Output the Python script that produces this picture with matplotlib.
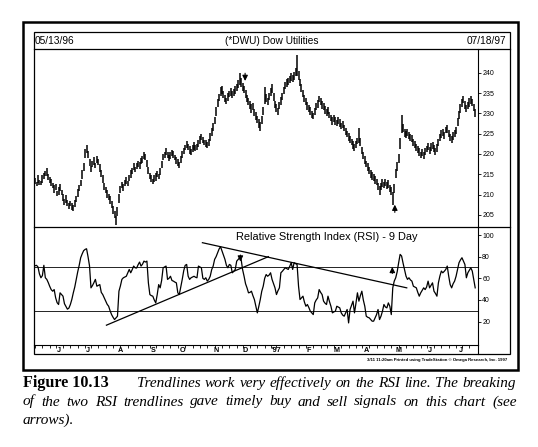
import matplotlib

matplotlib.use("Agg")
import matplotlib.pyplot as plt
import numpy as np
import pandas as pd
from matplotlib.lines import Line2D
from matplotlib.patches import Rectangle

plt.rcParams["font.family"] = ["Liberation Sans", "DejaVu Sans"]

# ---- data (daily bars, 05/13/96 .. 07/18/97) ----
holidays = ["1996-05-27", "1996-07-04", "1996-09-02", "1996-11-28", "1996-12-25",
            "1997-01-01", "1997-02-17", "1997-03-28", "1997-05-26", "1997-07-04"]

# bar midpoints (DWU price)
bar_mid = [
    213.4, 212.6, 213.8, 213.0, 212.8, 213.9, 214.6, 215.2, 215.6, 214.3,
    213.6, 213.0, 212.2, 211.4, 211.9, 210.2, 210.9, 211.7, 210.4, 209.3,
    208.2, 208.9, 207.9, 207.2, 207.8, 207.0, 206.6, 207.9, 209.0, 210.4,
    211.6, 212.9, 215.0, 216.8, 220.2, 221.3, 219.8, 217.9, 216.4, 217.5,
    218.3, 217.2, 218.6, 218.1, 216.6, 215.2, 213.8, 211.9, 211.2, 210.1,
    209.4, 208.6, 207.5, 206.2, 205.0, 203.6, 205.8, 209.0, 211.2, 212.4,
    211.8, 212.9, 213.4, 212.8, 214.1, 215.0, 215.8, 216.9, 216.2, 217.0,
    217.6, 217.1, 218.2, 218.7, 219.6, 219.2, 217.6, 215.9, 214.6, 214.0,
    213.2, 213.9, 214.4, 215.0, 214.5, 215.6, 217.4, 219.2, 219.8, 220.6,
    219.7, 219.0, 219.6, 220.3, 219.8, 219.1, 218.4, 217.9, 217.3, 218.6,
    219.9, 220.8, 221.6, 222.4, 221.7, 221.0, 220.5, 221.3, 222.0, 221.4,
    221.8, 222.6, 223.4, 224.1, 223.5, 222.9, 222.6, 222.1, 222.9, 224.2,
    225.4, 226.6, 228.2, 230.4, 232.6, 233.9, 235.4, 235.8, 234.6, 233.7,
    233.1, 234.0, 234.8, 235.3, 234.6, 235.1, 235.8, 236.4, 237.3, 238.4,
    237.6, 236.5, 235.9, 234.8, 233.6, 232.9, 232.1, 231.2, 231.6, 230.3,
    229.4, 228.6, 227.5, 226.8, 228.4, 230.6, 234.5, 233.8, 232.9, 234.2,
    235.3, 236.1, 234.0, 232.2, 231.4, 230.4, 231.9, 233.0, 234.1, 235.6,
    236.9, 237.5, 237.9, 238.4, 238.9, 238.6, 239.3, 240.2, 241.8, 239.4,
    237.6, 236.2, 234.8, 233.6, 232.9, 231.8, 231.2, 230.6, 229.8, 229.4,
    230.5, 231.6, 232.4, 233.5, 232.9, 232.0, 231.6, 230.9, 230.2, 230.7,
    229.6, 228.9, 228.2, 228.8, 228.1, 227.6, 228.2, 227.6, 226.9, 227.2,
    226.4, 225.6, 224.9, 224.2, 223.5, 223.0, 222.2, 221.6, 222.3, 223.2,
    224.6, 223.0, 220.8, 219.6, 218.6, 217.5, 216.8, 216.0, 215.0, 214.6,
    214.1, 213.6, 213.1, 212.0, 211.0, 211.9, 212.8, 212.4, 213.0, 212.3,
    212.6, 211.6, 210.8, 209.0, 211.5, 215.2, 216.9, 218.9, 222.6, 227.4,
    226.3, 225.2, 224.8, 225.3, 224.6, 224.1, 223.8, 222.9, 222.4, 221.6,
    221.0, 220.4, 219.8, 220.3, 219.7, 220.6, 221.2, 221.8, 220.9, 221.8,
    222.1, 221.3, 220.6, 221.5, 222.8, 224.0, 224.9, 225.2, 224.6, 225.9,
    226.2, 225.0, 224.1, 223.6, 224.5, 225.1, 225.8, 227.8, 229.6, 231.2,
    232.6, 233.4, 232.1, 231.2, 232.0, 232.7, 233.3, 232.6, 231.4, 230.1,
]

# bar high-low span
bar_span = [
    1.6, 1.2, 1.8, 1.4, 1.1, 1.9, 1.5, 1.3, 2.0, 1.6,
    1.4, 1.7, 1.2, 1.9, 1.5, 1.3, 1.8, 1.6, 1.2, 1.7,
    1.5, 1.9, 1.3, 1.6, 1.2, 1.8, 1.4, 1.7, 1.5, 1.9,
    1.6, 1.4, 2.1, 1.8, 2.2, 2.0, 1.7, 1.9, 1.5, 1.6,
    1.8, 1.3, 1.7, 1.5, 1.9, 1.6, 2.0, 1.7, 1.4, 1.8,
    1.5, 1.9, 1.6, 2.0, 1.8, 2.4, 2.2, 2.1, 1.7, 1.5,
    1.7, 1.4, 1.8, 1.3, 1.6, 1.9, 1.5, 1.7, 1.4, 1.6,
    1.5, 1.8, 1.4, 1.7, 1.9, 1.5, 1.8, 1.6, 1.3, 1.7,
    1.4, 1.6, 1.9, 1.5, 1.2, 1.7, 1.8, 1.6, 1.4, 1.9,
    1.6, 1.3, 1.7, 1.5, 1.8, 1.4, 1.6, 1.9, 1.5, 1.7,
    1.8, 1.5, 1.3, 1.7, 1.6, 1.9, 1.4, 1.6, 1.8, 1.5,
    1.4, 1.7, 1.9, 1.5, 1.6, 1.3, 1.8, 1.5, 1.7, 2.0,
    1.9, 2.1, 1.8, 2.3, 2.0, 1.9, 2.2, 2.0, 1.8, 1.7,
    1.6, 1.9, 1.5, 1.8, 1.7, 1.6, 1.9, 1.7, 2.0, 3.0,
    2.2, 1.9, 1.7, 2.0, 1.8, 1.6, 1.9, 2.3, 1.7, 1.8,
    1.9, 1.7, 2.1, 2.4, 2.0, 2.2, 4.2, 2.0, 1.8, 1.9,
    1.8, 2.2, 1.9, 1.7, 2.0, 1.8, 1.6, 1.9, 1.7, 1.8,
    1.7, 1.9, 1.6, 1.8, 2.0, 1.7, 1.9, 2.1, 5.0, 2.2,
    1.9, 2.0, 1.7, 1.8, 1.6, 2.0, 1.7, 1.9, 1.8, 1.6,
    1.8, 1.7, 1.9, 1.6, 1.8, 2.0, 1.7, 1.9, 1.6, 1.8,
    1.7, 1.5, 1.9, 1.6, 1.8, 1.4, 1.7, 1.9, 1.6, 1.8,
    1.6, 1.8, 1.5, 1.9, 1.7, 1.6, 1.8, 1.5, 1.7, 1.6,
    3.6, 2.0, 1.8, 1.7, 1.9, 1.6, 1.8, 1.7, 1.9, 1.8,
    1.7, 1.9, 1.6, 1.8, 2.2, 1.7, 1.9, 1.6, 1.8, 1.7,
    1.8, 1.7, 2.0, 3.2, 2.4, 2.2, 2.0, 2.1, 2.6, 4.4,
    2.0, 1.8, 1.9, 1.7, 1.8, 1.6, 1.9, 1.7, 1.8, 1.6,
    1.7, 1.9, 1.6, 1.8, 1.7, 1.9, 1.6, 1.8, 1.7, 1.9,
    1.6, 1.8, 1.7, 1.9, 1.8, 1.6, 1.9, 1.7, 1.8, 1.7,
    1.9, 1.7, 1.8, 1.6, 1.9, 1.7, 1.8, 2.0, 1.9, 2.1,
    2.0, 1.8, 1.9, 1.7, 1.8, 2.0, 1.9, 1.7, 1.8, 1.9,
]

# 9-day RSI
rsi = [
    71.6, 72.0, 70.5, 64.0, 60.5, 62.5, 72.0, 60.5, 59.0, 56.0,
    52.5, 49.5, 48.1, 49.6, 42.0, 37.5, 35.8, 46.6, 45.0, 43.5,
    36.5, 34.0, 31.5, 32.5, 35.8, 40.5, 46.6, 52.0, 59.0, 66.0,
    72.0, 79.0, 82.5, 85.5, 86.7, 87.3, 80.0, 71.6, 51.2, 53.3,
    56.0, 59.0, 52.7, 53.5, 54.2, 47.0, 45.0, 41.9, 39.0, 36.0,
    34.2, 30.0, 26.5, 24.0, 21.9, 23.5, 25.0, 48.1, 53.0, 59.0,
    60.5, 61.2, 61.9, 65.0, 68.2, 65.1, 68.0, 71.3, 69.7, 69.5,
    72.5, 75.0, 71.3, 73.0, 75.9, 75.0, 75.9, 55.8, 45.0, 44.0,
    43.5, 40.0, 37.3, 45.0, 54.2, 51.2, 58.0, 69.7, 70.5, 71.3,
    59.0, 60.0, 61.9, 58.0, 57.4, 56.5, 55.8, 46.6, 45.0, 52.0,
    59.0, 67.0, 72.0, 72.8, 62.0, 59.0, 60.5, 61.2, 61.9, 61.0,
    60.5, 71.3, 70.5, 69.7, 60.0, 59.0, 60.5, 57.4, 59.0, 61.9,
    68.0, 71.3, 77.5, 80.0, 83.6, 87.0, 89.2, 85.2, 81.0, 77.5,
    72.0, 69.7, 72.8, 72.0, 65.1, 66.5, 68.2, 75.9, 77.5, 79.0,
    77.5, 68.0, 61.9, 55.0, 51.2, 46.6, 47.0, 48.1, 44.0, 40.4,
    34.2, 28.1, 34.0, 40.4, 48.0, 52.7, 60.0, 63.5, 61.9, 63.0,
    65.1, 59.0, 55.0, 51.2, 45.0, 48.5, 51.2, 65.1, 66.5, 68.2,
    69.7, 69.0, 68.2, 71.0, 74.4, 68.2, 74.4, 73.5, 72.8, 52.7,
    40.4, 42.0, 43.5, 38.0, 34.2, 35.8, 33.0, 29.6, 28.0, 26.5,
    37.3, 40.0, 41.9, 49.6, 47.0, 45.0, 38.9, 37.0, 35.8, 43.5,
    38.5, 34.2, 28.1, 29.0, 29.6, 34.2, 33.5, 32.7, 28.1, 26.0,
    25.0, 28.0, 31.2, 18.8, 31.2, 35.0, 38.9, 28.1, 37.0, 46.6,
    38.9, 44.0, 48.1, 40.0, 34.2, 25.0, 24.0, 23.5, 22.0, 20.4,
    20.4, 23.5, 26.5, 31.2, 21.9, 25.0, 29.6, 35.8, 33.5, 32.7,
    37.3, 34.2, 26.5, 51.2, 57.4, 60.5, 66.0, 74.4, 82.1, 80.6,
    74.0, 68.2, 62.0, 59.0, 60.5, 58.5, 57.4, 52.7, 52.0, 51.2,
    47.0, 43.5, 46.6, 49.0, 51.2, 49.6, 52.0, 57.4, 51.2, 53.5,
    55.8, 48.1, 46.0, 43.5, 55.8, 62.0, 66.7, 65.1, 66.5, 68.2,
    71.3, 62.0, 54.2, 51.2, 55.0, 57.4, 61.9, 68.0, 74.4, 77.0,
    79.0, 76.0, 72.8, 60.5, 65.1, 67.5, 69.7, 66.7, 59.0, 51.2,
]

# RSI trendlines (bar index, RSI value) at each end
trend_up = [(48.5, 16.7), (158.5, 80.0)]
trend_down = [(113.7, 92.9), (252.5, 51.2)]

price_ticks = [205, 210, 215, 220, 225, 230, 235, 240]
rsi_ticks = [20, 40, 60, 80, 100]
rsi_levels = [30, 70]
month_labels = ["J", "J", "A", "S", "O", "N", "D", "'97", "F", "M", "A", "M", "J", "J"]

# ---- layout in pixels of the 538 x 447 page ----
W, H = 538, 447


def fx(px):
    return px / W


def fy(py):
    return 1 - py / H


dates = pd.bdate_range("1996-05-13", "1997-07-18")
dates = dates[~dates.isin(pd.to_datetime(holidays))]
x = np.arange(len(dates))
mid = np.array(bar_mid)
span = np.array(bar_span)

fig = plt.figure(figsize=(W / 100, H / 100), dpi=100)
fig.patch.set_facecolor("white")

L, R_axis, R_frame = 34, 478, 510
top_frame, head_bot, price_bot, rsi_bot, strip_bot = 32, 49.3, 227, 345, 354

ax_p = fig.add_axes([fx(L), fy(price_bot), fx(R_axis - L), (price_bot - head_bot) / H])
ax_r = fig.add_axes([fx(L), fy(rsi_bot), fx(R_axis - L), (rsi_bot - price_bot) / H])
ax_m = fig.add_axes([fx(L), fy(strip_bot), fx(R_axis - L), (strip_bot - rsi_bot) / H])

xlim = (-0.7, 300.9)
for ax in (ax_p, ax_r, ax_m):
    ax.set_xlim(*xlim)
    ax.set_facecolor("none")
    for s in ("left", "top", "bottom"):
        ax.spines[s].set_visible(False)
    ax.spines["right"].set_linewidth(0.8)

# price bars
ax_p.vlines(x, mid - span / 2, mid + span / 2, color="black", lw=1.1)
ax_p.set_ylim(202.0, 245.8)
ax_p.set_xticks([])
ax_p.yaxis.tick_right()
ax_p.set_yticks(price_ticks)
ax_p.tick_params(axis="y", length=2, width=0.6, pad=1, labelsize=5.0)

arrow = dict(arrowstyle="-|>,head_width=0.16,head_length=0.32",
             lw=0.8, color="black", shrinkA=0, shrinkB=0)

# signal arrows on price
ax_p.annotate("", xy=(142.7, 238.0), xytext=(142.7, 239.9), arrowprops=arrow)
ax_p.annotate("", xy=(244.4, 207.5), xytext=(244.4, 205.6), arrowprops=arrow)

# RSI
ax_r.plot(x, rsi, color="black", lw=0.9)
for lv in rsi_levels:
    ax_r.axhline(lv, color="black", lw=0.6)
for seg in (trend_up, trend_down):
    ax_r.plot([seg[0][0], seg[1][0]], [seg[0][1], seg[1][1]], color="black", lw=0.9)
ax_r.set_ylim(-1.6, 107.4)
ax_r.set_xticks([])
ax_r.yaxis.tick_right()
ax_r.set_yticks(rsi_ticks)
ax_r.tick_params(axis="y", length=2, width=0.6, pad=1, labelsize=5.0)
ax_r.annotate("", xy=(139.5, 75.5), xytext=(139.5, 81.5), arrowprops=arrow)
ax_r.annotate("", xy=(242.7, 70.5), xytext=(242.7, 64.5), arrowprops=arrow)

# month strip: weekly ticks and month letters
week = dates.to_series().dt.isocalendar().week.values
week_start = [i for i in range(len(dates)) if i == 0 or week[i] != week[i - 1]]
month_start = [i for i in range(1, len(dates)) if dates[i].month != dates[i - 1].month]
ax_m.spines["top"].set_visible(True)
ax_m.spines["top"].set_linewidth(0.8)
ax_m.set_ylim(0, 1)
ax_m.set_yticks([])
ax_m.xaxis.set_ticks_position("top")
ax_m.set_xticks(week_start)
ax_m.tick_params(axis="x", direction="in", length=2, width=0.6, labeltop=False)
for i, lab in zip(month_start, month_labels):
    ax_m.text(i + 2, 0.4, lab, ha="center", va="center", fontsize=5.2,
              fontweight="bold")

# frames and separators
fig.add_artist(Rectangle((fx(23), fy(370)), fx(518 - 23), (370 - 22) / H,
                         transform=fig.transFigure, fill=False, lw=1.8, ec="black"))
fig.add_artist(Rectangle((fx(L), fy(strip_bot)), fx(R_frame - L), (strip_bot - top_frame) / H,
                         transform=fig.transFigure, fill=False, lw=0.9, ec="black"))
for py in (head_bot, price_bot):
    fig.add_artist(Line2D([fx(L), fx(R_frame)], [fy(py), fy(py)],
                          transform=fig.transFigure, lw=0.9, color="black"))

# header texts
fig.text(fx(35), fy(41), "05/13/96", ha="left", va="center", fontsize=7.3)
fig.text(fx(271.5), fy(41), "(*DWU) Dow Utilities", ha="center", va="center", fontsize=7.3)
fig.text(fx(506), fy(41), "07/18/97", ha="right", va="center", fontsize=7.3)
fig.text(fx(326.5), fy(236.7), "Relative Strength Index (RSI) - 9 Day",
         ha="center", va="center", fontsize=7.9)
fig.text(fx(507), fy(359.5), "3/11 11:20am Printed using TradeStation \u00a9 Omega Research, Inc. 1997",
         ha="right", va="center", fontsize=3.1, fontweight="bold")

# caption (justified lines)
renderer = fig.canvas.get_renderer()
cap_font = ["Liberation Serif", "DejaVu Serif"]
cap_lines = [
    "Trendlines work very effectively on the RSI line. The breaking",
    "of the two RSI trendlines gave timely buy and sell signals on this chart (see",
    "arrows).",
]
measures = [(137, 516), (23, 517)]


def words_width(words, size, **kw):
    total = 0
    for w in words:
        t = fig.text(0, 0, w, family=cap_font, fontsize=size, **kw)
        total += t.get_window_extent(renderer).width
        t.remove()
    return total


# largest size at which both justified lines keep at least a 4 px word gap
cap_size = 20
for line, (x0, x1) in zip(cap_lines[:2], measures):
    words = line.split()
    ww = words_width(words, 10, style="italic")
    cap_size = min(cap_size, 10 * (x1 - x0 - 4 * (len(words) - 1)) / ww)


def justify(words, x0, x1, py, **kw):
    objs = [fig.text(0, fy(py), w, ha="left", va="baseline", family=cap_font, **kw)
            for w in words]
    widths = [o.get_window_extent(renderer).width for o in objs]
    gap = (x1 - x0 - sum(widths)) / max(len(words) - 1, 1)
    pos = x0
    for o, w in zip(objs, widths):
        o.set_x(fx(pos))
        pos += w + gap


fig.text(fx(23), fy(387), "Figure 10.13", ha="left", va="baseline",
         family=cap_font, fontsize=cap_size + 0.6, fontweight="bold")
justify(cap_lines[0].split(), *measures[0], 387, fontsize=cap_size, style="italic")
justify(cap_lines[1].split(), *measures[1], 405.5, fontsize=cap_size, style="italic")
fig.text(fx(23), fy(424), cap_lines[2], ha="left", va="baseline",
         family=cap_font, fontsize=cap_size, style="italic")

fig.savefig("out.png", dpi=100)
